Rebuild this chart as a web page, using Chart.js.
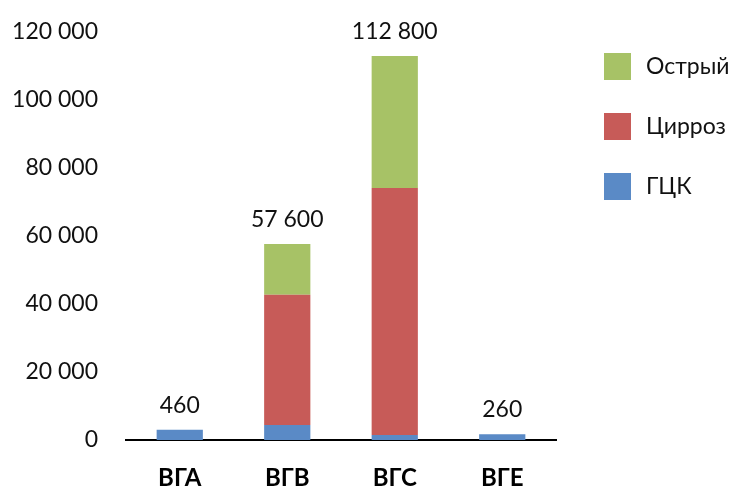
<!DOCTYPE html>
<html>
<head>
<meta charset="utf-8">
<script src="https://cdn.jsdelivr.net/npm/chart.js@4"></script>
<style>
  html, body { margin: 0; padding: 0; background: #fff; }
  #wrap { width: 731px; height: 489px; }
</style>
</head>
<body>
<div id="wrap"><canvas id="chart" width="731" height="489"></canvas></div>
<script>
// данные
const categories = ['ВГА', 'ВГВ', 'ВГС', 'ВГЕ'];
const gck = [3000, 4400, 1500, 1700];
const cirroz = [0, 38300, 72500, 0];
const ostry = [0, 14900, 38800, 0];
const totalLabels = ['460', '57 600', '112 800', '260'];
const yTicks = [0, 20000, 40000, 60000, 80000, 100000, 120000];

const COLORS = { gck: '#5A8AC6', cirroz: '#C75B58', ostry: '#A7C266' };
const FONT = 'Lato, "Open Sans", sans-serif';

function fmt(v) {
    return String(v).replace(/\B(?=(\d{3})+(?!\d))/g, ' ');
}

// подписи итогов над столбиками
const totalsPlugin = {
    id: 'totals',
    afterDatasetsDraw(chart) {
        const ctx = chart.ctx;
        const x = chart.scales.x, y = chart.scales.y;
        ctx.save();
        ctx.font = '23px ' + FONT;
        ctx.fillStyle = '#111';
        ctx.textAlign = 'center';
        ctx.textBaseline = 'alphabetic';
        categories.forEach((c, i) => {
            const sum = gck[i] + cirroz[i] + ostry[i];
            ctx.fillText(totalLabels[i], x.getPixelForValue(i), y.getPixelForValue(sum) - 17);
        });
        ctx.restore();
    }
};

// легенда справа, как в оригинале
const legendPlugin = {
    id: 'sideLegend',
    afterDraw(chart) {
        const ctx = chart.ctx;
        const items = chart.data.datasets.slice().reverse();
        ctx.save();
        ctx.font = '23px ' + FONT;
        ctx.textBaseline = 'middle';
        items.forEach((ds, i) => {
            const top = 53 + i * 60;
            ctx.fillStyle = ds.backgroundColor;
            ctx.fillRect(604, top, 27, 27);
            ctx.fillStyle = '#111';
            ctx.fillText(ds.label, 646, top + 14);
        });
        ctx.restore();
    }
};

new Chart(document.getElementById('chart'), {
    type: 'bar',
    data: {
        labels: categories,
        datasets: [
            { label: 'ГЦК', data: gck, backgroundColor: COLORS.gck },
            { label: 'Цирроз', data: cirroz, backgroundColor: COLORS.cirroz },
            { label: 'Острый', data: ostry, backgroundColor: COLORS.ostry }
        ]
    },
    options: {
        responsive: false,
        animation: false,
        layout: { padding: { top: 21, right: 175, left: 0, bottom: 0 } },
        plugins: {
            legend: { display: false },
            tooltip: { enabled: false }
        },
        datasets: { bar: { categoryPercentage: 1, barPercentage: 0.43 } },
        scales: {
            x: {
                stacked: true,
                grid: { display: false },
                border: { display: true, color: '#000', width: 2 },
                ticks: { color: '#000', font: { family: FONT, size: 24, weight: 'bold' }, padding: 16 },
                afterFit(axis) { axis.height = 49; }
            },
            y: {
                stacked: true,
                min: 0,
                max: 120000,
                afterBuildTicks(axis) { axis.ticks = yTicks.map(v => ({ value: v })); },
                grid: { display: false },
                border: { display: false },
                ticks: {
                    color: '#111',
                    padding: 20,
                    font: { family: FONT, size: 23, lineHeight: 1 },
                    callback: v => fmt(v)
                },
                afterFit(axis) { axis.width = 126; }
            }
        }
    },
    plugins: [totalsPlugin, legendPlugin]
});
</script>
</body>
</html>
